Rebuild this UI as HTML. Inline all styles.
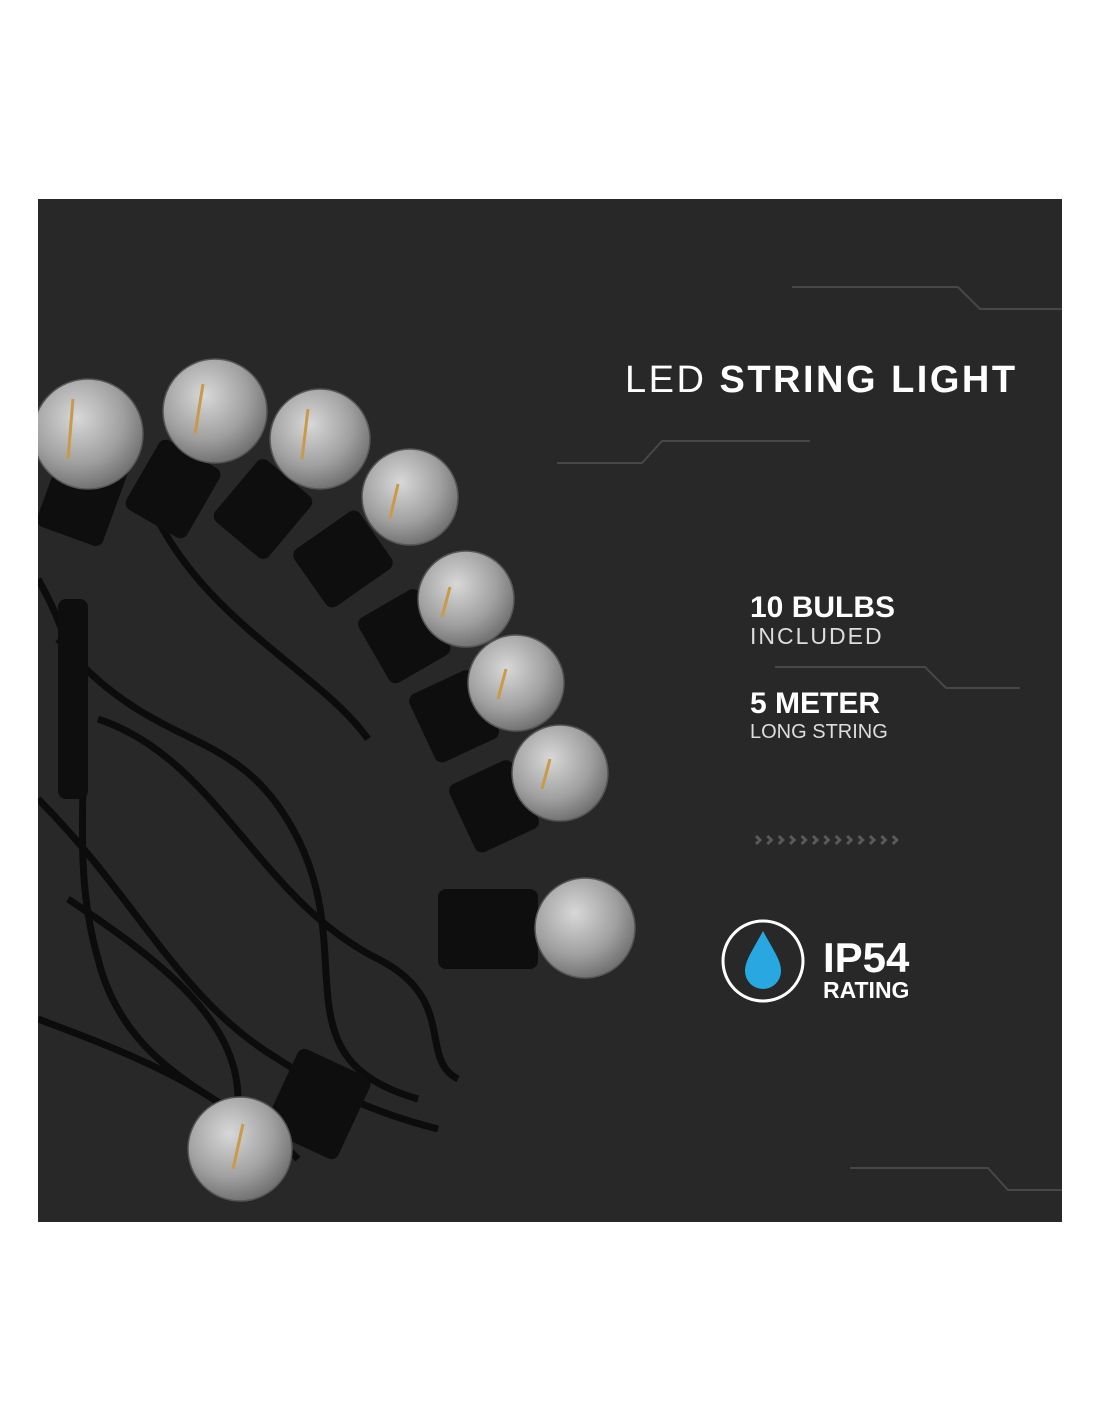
<!DOCTYPE html>
<html><head><style>
body{margin:0;width:1100px;height:1422px;background:#fff;position:relative;overflow:hidden;font-family:"Liberation Sans",sans-serif}
.p{position:absolute;left:38px;top:199px;width:1024px;height:1023px;background:#282828;overflow:hidden}
.t{position:absolute;color:#fff;white-space:nowrap}
</style></head><body>
<div class="p">
<svg width="1024" height="1023" style="position:absolute;left:0;top:0">
<defs>
<radialGradient id="g" cx="0.4" cy="0.35" r="0.7"><stop offset="0" stop-color="#d8d8d8"/><stop offset="0.6" stop-color="#a0a0a0"/><stop offset="1" stop-color="#6a6a6a"/></radialGradient>
</defs>
<g stroke="#474747" stroke-width="2" fill="none">
<polyline points="754,88 920,88 942,110 1024,110"/>
<polyline points="772,242 624,242 604,264 519,264"/>
<polyline points="737,468 887,468 908,489 982,489"/>
<polyline points="812,969 950,969 970,991 1024,991"/>
</g>
<g fill="none" stroke="#5a5a5a" stroke-width="3">
<path d="M718,637 l4,4 l-4,4 M729.4,637 l4,4 l-4,4 M740.8,637 l4,4 l-4,4 M752.2,637 l4,4 l-4,4 M763.6,637 l4,4 l-4,4 M775,637 l4,4 l-4,4 M786.4,637 l4,4 l-4,4 M797.8,637 l4,4 l-4,4 M809.2,637 l4,4 l-4,4 M820.6,637 l4,4 l-4,4 M832,637 l4,4 l-4,4 M843.4,637 l4,4 l-4,4 M854.8,637 l4,4 l-4,4"/>
</g>
<g stroke="#0c0c0c" stroke-width="7" fill="none">
<path d="M0,380 C80,520 20,620 60,760 C90,880 200,900 260,960"/>
<path d="M20,440 C120,560 200,520 260,640 C320,760 240,860 380,900"/>
<path d="M60,520 C180,560 220,700 340,760 C420,800 380,860 420,880"/>
<path d="M0,600 C100,700 140,800 240,860 C300,900 360,920 400,930"/>
<path d="M110,300 C160,420 280,470 330,540"/>
<path d="M30,700 C120,760 200,820 200,900"/>
<path d="M0,820 C80,850 160,880 230,940"/>
</g>
<g fill="#0e0e0e">
<rect x="10" y="250" width="70" height="90" rx="8" transform="rotate(20 45 295)"/>
<rect x="100" y="250" width="70" height="80" rx="8" transform="rotate(30 135 290)"/>
<rect x="190" y="270" width="70" height="80" rx="8" transform="rotate(40 225 310)"/>
<rect x="270" y="320" width="70" height="80" rx="8" transform="rotate(55 305 360)"/>
<rect x="330" y="400" width="75" height="70" rx="8" transform="rotate(60 365 435)"/>
<rect x="380" y="480" width="75" height="70" rx="8" transform="rotate(65 415 515)"/>
<rect x="420" y="570" width="75" height="70" rx="8" transform="rotate(65 455 605)"/>
<rect x="400" y="690" width="100" height="80" rx="8"/>
<rect x="240" y="860" width="80" height="90" rx="8" transform="rotate(25 280 905)"/>
<rect x="20" y="400" width="30" height="200" rx="8"/>
</g>
<g fill="url(#g)" stroke="#555" stroke-width="1.5">
<circle cx="50" cy="235" r="55"/>
<circle cx="177" cy="212" r="52"/>
<circle cx="282" cy="240" r="50"/>
<circle cx="372" cy="298" r="48"/>
<circle cx="428" cy="400" r="48"/>
<circle cx="478" cy="484" r="48"/>
<circle cx="522" cy="574" r="48"/>
<circle cx="547" cy="729" r="50"/>
<circle cx="202" cy="950" r="52"/>
</g>
<g stroke="#c89a4a" stroke-width="3" fill="none">
<path d="M35,200 l-5,60"/><path d="M165,185 l-8,50"/><path d="M270,210 l-6,50"/>
<path d="M360,285 l-8,35"/><path d="M412,388 l-8,30"/><path d="M468,470 l-8,30"/>
<path d="M512,560 l-8,30"/><path d="M205,925 l-10,45"/>
</g>
<circle cx="725" cy="762" r="40" fill="none" stroke="#fff" stroke-width="3"/>
<path d="M725,732 C713,754 707,762 707,772 A18,18 0 0 0 743,772 C743,762 737,754 725,732 Z" fill="#29a7e1"/>
</svg>
<div class="t" style="left:587px;top:160px;font-size:38px;letter-spacing:2.5px"><span style="font-weight:normal">LED</span> <b>STRING LIGHT</b></div>
<div class="t" style="left:712px;top:392px;font-size:30px;font-weight:bold">10 BULBS</div>
<div class="t" style="left:712px;top:424px;font-size:23px;color:#ddd;letter-spacing:2px">INCLUDED</div>
<div class="t" style="left:712px;top:488px;font-size:30px;font-weight:bold">5 METER</div>
<div class="t" style="left:712px;top:522px;font-size:20px;color:#ddd">LONG STRING</div>
<div class="t" style="left:785px;top:738px;font-size:42px;font-weight:bold;line-height:42px">IP54</div>
<div class="t" style="left:785px;top:778px;font-size:23px;font-weight:bold">RATING</div>
</div>
</body></html>
